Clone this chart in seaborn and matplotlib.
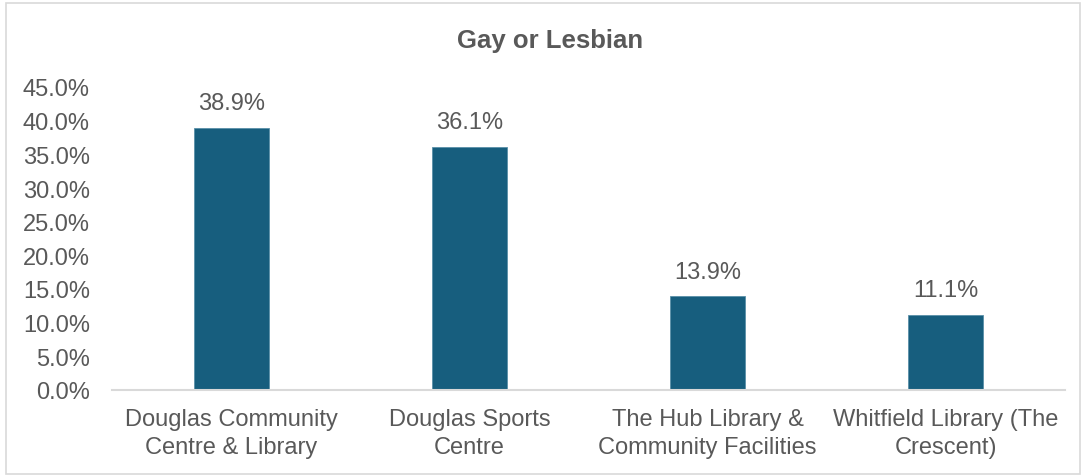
import matplotlib
matplotlib.use("Agg")
import matplotlib.pyplot as plt
import seaborn as sns
import pandas as pd
from matplotlib.patches import Rectangle
from matplotlib.ticker import FuncFormatter, MultipleLocator

categories = ["Douglas Community\nCentre & Library", "Douglas Sports\nCentre",
              "The Hub Library &\nCommunity Facilities", "Whitfield Library (The\nCrescent)"]
values = [38.9, 36.1, 13.9, 11.1]
title = "Gay or Lesbian"

sns.set_theme(style="white")
plt.rcParams["font.family"] = ["Liberation Sans", "DejaVu Sans"]

text_color = "#595959"
bar_color = "#175e7e"

df = pd.DataFrame({"cat": categories, "val": values})

fig = plt.figure(figsize=(10.83, 4.77), dpi=100)
ax = fig.add_axes([112/1083, 86/477, (1065-112)/1083, (391-88)/477])

sns.barplot(data=df, x="cat", y="val", color=bar_color, width=0.315, ax=ax,
            saturation=1, edgecolor="#5a8fa8", linewidth=0.6)

ax.set_ylim(0, 45)
ax.yaxis.set_major_locator(MultipleLocator(5))
ax.yaxis.set_major_formatter(FuncFormatter(lambda v, p: f"{v:.1f}%"))
ax.set_xlim(-0.5, 3.5)
ax.set_xlabel("")
ax.set_ylabel("")

for s in ["top", "right", "left"]:
    ax.spines[s].set_visible(False)
ax.spines["bottom"].set_color("#d9d9d9")
ax.spines["bottom"].set_linewidth(1.5)

ax.tick_params(axis="both", length=0, labelsize=17, colors=text_color)
ax.tick_params(axis="y", pad=16)
ax.tick_params(axis="x", pad=13)
for lbl in ax.get_xticklabels():
    lbl.set_linespacing(1.35)

for i, v in enumerate(values):
    ax.annotate(f"{v:.1f}%", (i, v), xytext=(0, 10), textcoords="offset points",
                ha="center", va="bottom", fontsize=17, color=text_color)

fig.text(550/1083, 1 - 41/477, title, ha="center", va="center",
         fontsize=18.5, fontweight="bold", color=text_color)

fig.patches.append(Rectangle((6/1083, 2/477), (1080-6)/1083, (473-2)/477,
                             transform=fig.transFigure, fill=False,
                             edgecolor="#d9d9d9", linewidth=1.2))

fig.savefig("out.png", dpi=100)
